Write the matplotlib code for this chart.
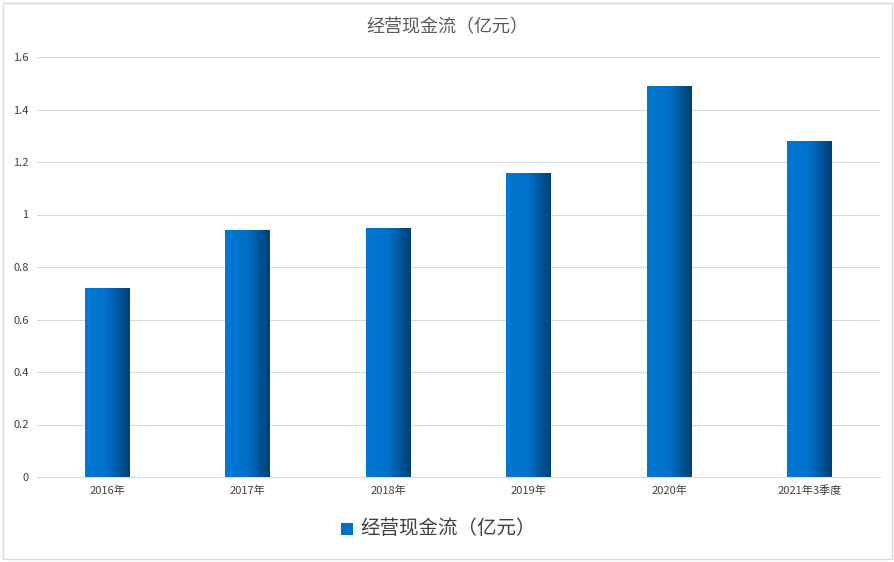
import matplotlib
matplotlib.use("Agg")
import matplotlib.pyplot as plt
import numpy as np
from matplotlib.colors import LinearSegmentedColormap
from matplotlib.patches import Rectangle

plt.rcParams['font.family'] = ['Noto Sans CJK SC', 'DejaVu Sans']

categories = ['2016年', '2017年', '2018年', '2019年', '2020年', '2021年3季度']
values = [0.72, 0.94, 0.95, 1.16, 1.49, 1.28]
yticks = [0, 0.2, 0.4, 0.6, 0.8, 1, 1.2, 1.4, 1.6]
ytick_labels = ['0', '0.2', '0.4', '0.6', '0.8', '1', '1.2', '1.4', '1.6']
title = '经营现金流（亿元）'

fig = plt.figure(figsize=(8.95, 5.62), dpi=100)
fig.patch.set_facecolor('white')
fig.add_artist(Rectangle((0.003, 0.005), 0.994, 0.99, transform=fig.transFigure,
                         fill=False, edgecolor='#d9d9d9', lw=1))
ax = fig.add_axes([37/895, 1-477/562, (880-37)/895, (477-57)/562])
ax.set_xlim(-0.5, len(categories)-0.5)
ax.set_ylim(0, 1.6)
ax.set_yticks(yticks)
ax.set_yticklabels(ytick_labels, fontsize=8, color='#404040')
ax.set_xticks(range(len(categories)))
ax.set_xticklabels(categories, fontsize=8, color='#404040')
ax.tick_params(length=0, pad=6)
ax.grid(axis='y', color='#d9d9d9', lw=0.8)
ax.set_axisbelow(True)
for s in ['top', 'right', 'left']:
    ax.spines[s].set_visible(False)
ax.spines['bottom'].set_color('#d9d9d9')

cmap = LinearSegmentedColormap.from_list('g', ['#0078d4', '#0070c8', '#003f73'])
grad = np.linspace(0, 1, 256).reshape(1, -1)
w = 0.32
bars = ax.bar(range(len(categories)), values, width=w, color='none', zorder=2)
for b in bars:
    x0, h = b.get_x(), b.get_height()
    im = ax.imshow(grad, cmap=cmap, aspect='auto', extent=[x0, x0+w, 0, h], zorder=2)
    im.set_clip_path(b)
ax.set_xlim(-0.5, len(categories)-0.5)
ax.set_ylim(0, 1.6)

fig.text(0.5, 1-27/562, title, ha='center', va='center', fontsize=13, color='#595959')
fig.patches.append(Rectangle((341/895, 1-535/562), 12/895, 12/562, transform=fig.transFigure,
                             facecolor='#0070c8', figure=fig))
fig.text(360/895, 1-529/562, title, ha='left', va='center', fontsize=14, color='#404040')
fig.savefig('out.png', dpi=100)
